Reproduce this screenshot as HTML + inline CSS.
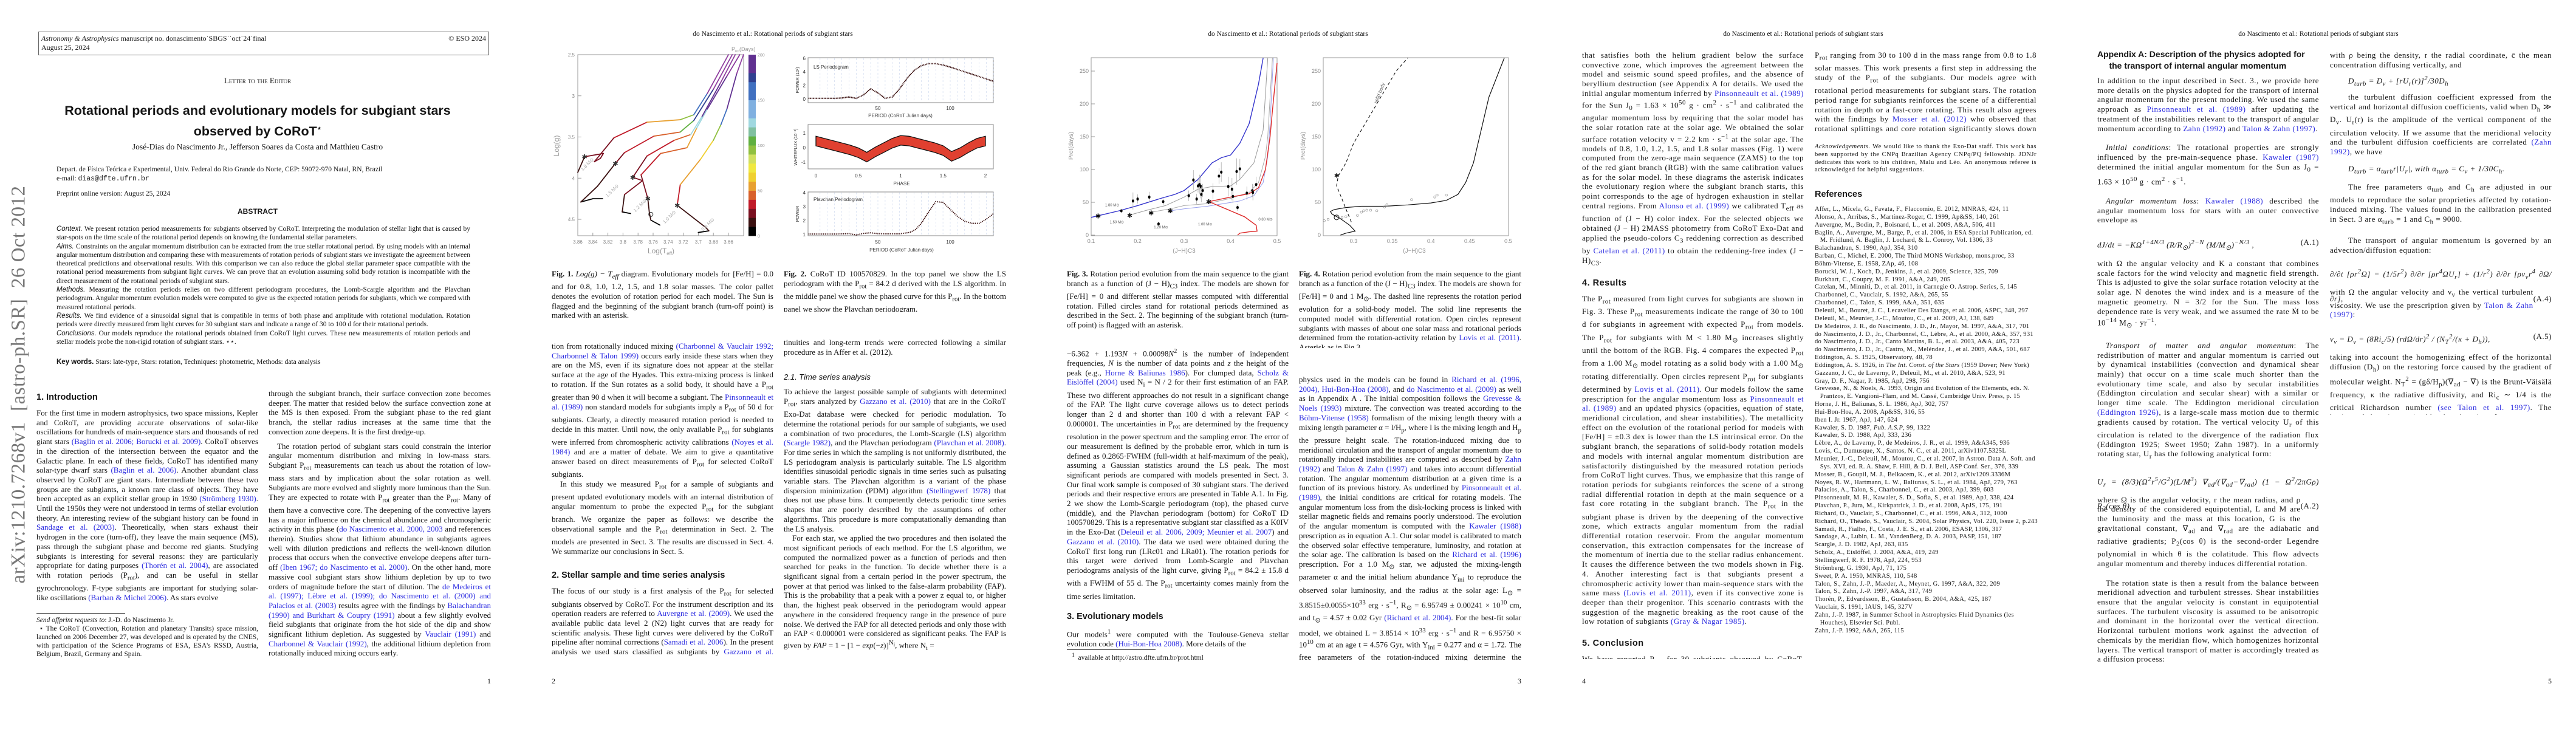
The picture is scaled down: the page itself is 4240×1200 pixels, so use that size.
<!DOCTYPE html>
<html><head><meta charset="utf-8">
<style>
*{margin:0;padding:0;box-sizing:border-box}
body{width:4240px;height:1200px;background:#fff;position:relative;overflow:hidden;font-family:"Liberation Serif",serif;color:#151515}
.pg{position:absolute;top:0;width:848px;height:1200px;background:#fff;overflow:hidden}
.col{position:absolute;font-size:13px;line-height:15.7px;text-align:justify;overflow:hidden;hyphens:auto}
.col p{text-indent:0}
.col p+p{text-indent:14px}
.h{font-family:"Liberation Sans",sans-serif;font-weight:bold;font-size:14.5px;line-height:20px;margin:6px 0 8px 0;text-align:left}
.hi{font-family:"Liberation Sans",sans-serif;font-style:italic;font-size:13px;margin:8px 0 8px 0}
a,.c{color:#2a2ae0;text-decoration:none}
.rh{position:absolute;top:50px;left:0;width:848px;text-align:center;font-size:11.5px}
.pn{position:absolute;top:1114px;font-size:12px}
.cap{position:absolute;font-size:13px;line-height:15.7px;text-align:justify;overflow:hidden}
.small{font-size:11px;line-height:12.8px}
.w{letter-spacing:0.5px}
svg text{font-family:"Liberation Sans",sans-serif}
</style></head><body>

<!-- PAGE 1 -->
<div class="pg" style="left:0">
  <div style="position:absolute;left:63px;top:52px;width:742px;height:39px;border:1px solid #666;font-size:12px;line-height:15px;padding:3px 4px">
    <i>Astronomy &amp; Astrophysics</i> manuscript no. donascimento˙SBGS˙˙oct˙24˙final<span style="float:right">© ESO 2024</span><br>August 25, 2024
  </div>
  <div style="position:absolute;top:125px;left:0;width:848px;text-align:center;font-size:13px;font-variant:small-caps">Letter to the Editor</div>
  <div style="position:absolute;top:168px;left:0;width:848px;text-align:center;font-family:'Liberation Sans',sans-serif;font-weight:bold;font-size:21.5px;line-height:29px">Rotational periods and evolutionary models for subgiant stars<br>observed by CoRoT<sup style="font-size:12px">⋆</sup></div>
  <div style="position:absolute;top:234px;left:0;width:848px;text-align:center;font-size:13.5px">José-Dias do Nascimento Jr., Jefferson Soares da Costa and Matthieu Castro</div>
  <div style="position:absolute;top:272px;left:93px;font-size:11.5px;line-height:15px">Depart. de Física Teórica e Experimental, Univ. Federal do Rio Grande do Norte, CEP: 59072-970 Natal, RN, Brazil<br>e-mail: <span style="font-family:'Liberation Mono',monospace">dias@dfte.ufrn.br</span></div>
  <div style="position:absolute;top:313px;left:93px;font-size:11.5px">Preprint online version: August 25, 2024</div>
  <div style="position:absolute;top:341px;left:0;width:848px;text-align:center;font-family:'Liberation Sans',sans-serif;font-weight:bold;font-size:12px">ABSTRACT</div>
  <div class="col" style="left:93px;top:370px;width:681px;height:218px;font-size:11.5px;line-height:14.3px">
  <i style="font-family:'Liberation Sans'">Context.</i> We present rotation period measurements for subgiants observed by CoRoT. Interpreting the modulation of stellar light that is caused by star-spots on the time scale of the rotational period depends on knowing the fundamental stellar parameters.<br>
  <i style="font-family:'Liberation Sans'">Aims.</i> Constraints on the angular momentum distribution can be extracted from the true stellar rotational period. By using models with an internal angular momentum distribution and comparing these with measurements of rotation periods of subgiant stars we investigate the agreement between theoretical predictions and observational results. With this comparison we can also reduce the global stellar parameter space compatible with the rotational period measurements from subgiant light curves. We can prove that an evolution assuming solid body rotation is incompatible with the direct measurement of the rotational periods of subgiant stars.<br>
  <i style="font-family:'Liberation Sans'">Methods.</i> Measuring the rotation periods relies on two different periodogram procedures, the Lomb-Scargle algorithm and the Plavchan periodogram. Angular momentum evolution models were computed to give us the expected rotation periods for subgiants, which we compared with measured rotational periods.<br>
  <i style="font-family:'Liberation Sans'">Results.</i> We find evidence of a sinusoidal signal that is compatible in terms of both phase and amplitude with rotational modulation. Rotation periods were directly measured from light curves for 30 subgiant stars and indicate a range of 30 to 100 d for their rotational periods.<br>
  <i style="font-family:'Liberation Sans'">Conclusions.</i> Our models reproduce the rotational periods obtained from CoRoT light curves. These new measurements of rotation periods and stellar models probe the non-rigid rotation of subgiant stars. ⋆⋆.
  </div>
  <div style="position:absolute;top:590px;left:93px;font-size:11.5px"><b style="font-family:'Liberation Sans'">Key words.</b> Stars: late-type, Stars: rotation, Techniques: photometric, Methods: data analysis</div>
  <div style="position:absolute;left:31px;top:633px;transform:translate(-50%,-50%) rotate(-90deg);white-space:nowrap;font-size:33px;color:#777;letter-spacing:0.5px">arXiv:1210.7268v1&nbsp; [astro-ph.SR]&nbsp; 26 Oct 2012</div>
  <div class="col" style="left:60px;top:638px;width:365px;height:360px">
  <div class="h">1. Introduction</div>
  <p>For the first time in modern astrophysics, two space missions, Kepler and CoRoT, are providing accurate observations of solar-like oscillations for hundreds of main-sequence stars and thousands of red giant stars <a>(Baglin et al. 2006; Borucki et al. 2009)</a>. CoRoT observes in the direction of the intersection between the equator and the Galactic plane. In each of these fields, CoRoT has identified many solar-type dwarf stars <a>(Baglin et al. 2006)</a>. Another abundant class observed by CoRoT are giant stars. Intermediate between these two groups are the subgiants, a known rare class of objects. They have been accepted as an explicit stellar group in 1930 <a>(Strömberg 1930)</a>. Until the 1950s they were not understood in terms of stellar evolution theory. An interesting review of the subgiant history can be found in <a>Sandage et al. (2003)</a>. Theoretically, when stars exhaust their hydrogen in the core (turn-off), they leave the main sequence (MS), pass through the subgiant phase and become red giants. Studying subgiants is interesting for several reasons: they are particularly appropriate for dating purposes <a>(Thorén et al. 2004)</a>, are associated with rotation periods (P<sub>rot</sub>), and can be useful in stellar gyrochronology. F-type subgiants are important for studying solar-like oscillations <a>(Barban &amp; Michel 2006)</a>. As stars evolve</p>
  </div>
  <div style="position:absolute;left:60px;top:1009px;width:146px;border-top:1px solid #333"></div>
  <div class="col small" style="left:60px;top:1014px;width:365px;height:70px;font-size:11.5px;line-height:14px"><i>Send offprint requests to</i>: J.-D. do Nascimento Jr.<br>&nbsp;⋆ The CoRoT (Convection, Rotation and planetary Transits) space mission, launched on 2006 December 27, was developed and is operated by the CNES, with participation of the Science Programs of ESA, ESA's RSSD, Austria, Belgium, Brazil, Germany and Spain.</div>
  <div class="col" style="left:442px;top:640px;width:366px;height:446px">
  <p>through the subgiant branch, their surface convection zone becomes deeper. The matter that resided below the surface convection zone at the MS is then exposed. From the subgiant phase to the red giant branch, the stellar radius increases at the same time that the convection zone deepens. It is the first dredge-up.</p>
  <p style="margin-top:8px">The rotation period of subgiant stars could constrain the interior angular momentum distribution and mixing in low-mass stars. Subgiant P<sub>rot</sub> measurements can teach us about the rotation of low-mass stars and by implication about the solar rotation as well. Subgiants are more evolved and slightly more luminous than the Sun. They are expected to rotate with P<sub>rot</sub> greater than the P<sub>rot</sub>. Many of them have a convective core. The deepening of the convective layers has a major influence on the chemical abundance and chromospheric activity in this phase (<a>do Nascimento et al. 2000, 2003</a> and references therein). Studies show that lithium abundance in subgiants agrees well with dilution predictions and reflects the well-known dilution process that occurs when the convective envelope deepens after turn-off <a>(Iben 1967; do Nascimento et al. 2000)</a>. On the other hand, more massive cool subgiant stars show lithium depletion by up to two orders of magnitude before the start of dilution. The <a>de Medeiros et al. (1997); Lèbre et al. (1999); do Nascimento et al. (2000) and Palacios et al. (2003)</a> results agree with the findings by <a>Balachandran (1990) and Burkhart &amp; Coupry (1991)</a> about a few slightly evolved field subgiants that originate from the hot side of the dip and show significant lithium depletion. As suggested by <a>Vauclair (1991)</a> and <a>Charbonnel &amp; Vauclair (1992)</a>, the additional lithium depletion from rotationally induced mixing occurs early.</p>
  </div>
  <div class="pn" style="left:802px">1</div>
</div>

<!-- PAGE 2 -->
<div class="pg" style="left:848px">
  <div class="rh">do Nascimento et al.: Rotational periods of subgiant stars</div>
  <svg id="svg2" width="848" height="430" style="position:absolute;left:0;top:0"></svg>
  <div class="cap" style="left:60px;top:443px;width:365px;height:90px"><b>Fig. 1.</b> <i>Log(g) − T<sub>eff</sub></i> diagram. Evolutionary models for [Fe/H] = 0.0 and for 0.8, 1.0, 1.2, 1.5, and 1.8 solar masses. The color pallet denotes the evolution of rotation period for each model. The Sun is flagged and the beginning of the subgiant branch (turn-off point) is marked with an asterisk.</div>
  <div class="cap" style="left:442px;top:443px;width:366px;height:70px"><b>Fig. 2.</b> CoRoT ID 100570829. In the top panel we show the LS periodogram with the P<sub>rot</sub> = 84.2 d derived with the LS algorithm. In the middle panel we show the phased curve for this P<sub>rot</sub>. In the bottom panel we show the Plavchan periodogram.</div>
  <div class="col" style="left:60px;top:562px;width:365px;height:522px">
  <p>tion from rotationally induced mixing <a>(Charbonnel &amp; Vauclair 1992; Charbonnel &amp; Talon 1999)</a> occurs early inside these stars when they are on the MS, even if its signature does not appear at the stellar surface at the age of the Hyades. This extra-mixing process is linked to rotation. If the Sun rotates as a solid body, it should have a P<sub>rot</sub> greater than 90 d when it will become a subgiant. The <a>Pinsonneault et al. (1989)</a> non standard models for subgiants imply a P<sub>rot</sub> of 50 d for subgiants. Clearly, a directly measured rotation period is needed to decide in this matter. Until now, the only available P<sub>rot</sub> for subgiants were inferred from chromospheric activity calibrations <a>(Noyes et al. 1984)</a> and are a matter of debate. We aim to give a quantitative answer based on direct measurements of P<sub>rot</sub> for selected CoRoT subgiants.</p>
  <p>In this study we measured P<sub>rot</sub> for a sample of subgiants and present updated evolutionary models with an internal distribution of angular momentum to probe the expected P<sub>rot</sub> for the subgiant branch. We organize the paper as follows: we describe the observational sample and the P<sub>rot</sub> determination in Sect. 2. The models are presented in Sect. 3. The results are discussed in Sect. 4. We summarize our conclusions in Sect. 5.</p>
  <div class="h" style="margin-top:22px">2. Stellar sample and time series analysis</div>
  <p>The focus of our study is a first analysis of the P<sub>rot</sub> for selected subgiants observed by CoRoT. For the instrument description and its operation readers are referred to <a>Auvergne et al. (2009)</a>. We used the available public data level 2 (N2) light curves that are ready for scientific analysis. These light curves were delivered by the CoRoT pipeline after nominal corrections (<a>Samadi et al. 2006</a>). In the present analysis we used stars classified as subgiants by <a>Gazzano et al. (2010)</a>. We chose only light curves with ∼ 150 d with a low contamination factor and high-quality photometry without systematic errors. Eventual discon-</p>
  </div>
  <div class="col" style="left:442px;top:556px;width:366px;height:530px">
  <p>tinuities and long-term trends were corrected following a similar procedure as in Affer et al. (2012).</p>
  <div class="hi" style="margin-top:26px">2.1. Time series analysis</div>
  <p>To achieve the largest possible sample of subgiants with determined P<sub>rot</sub>, stars analyzed by <a>Gazzano et al. (2010)</a> that are in the CoRoT Exo-Dat database were checked for periodic modulation. To determine the rotational periods for our sample of subgiants, we used a combination of two procedures, the Lomb-Scargle (LS) algorithm <a>(Scargle 1982)</a>, and the Plavchan periodogram <a>(Plavchan et al. 2008)</a>. For time series in which the sampling is not uniformly distributed, the LS periodogram analysis is particularly suitable. The LS algorithm identifies sinusoidal periodic signals in time series such as pulsating variable stars. The Plavchan algorithm is a variant of the phase dispersion minimization (PDM) algorithm <a>(Stellingwerf 1978)</a> that does not use phase bins. It competently detects periodic time series shapes that are poorly described by the assumptions of other algorithms. This procedure is more computationally demanding than the LS analysis.</p>
  <p>For each star, we applied the two procedures and then isolated the most significant periods of each method. For the LS algorithm, we computed the normalized power as a function of periods and then searched for peaks in the function. To decide whether there is a significant signal from a certain period in the power spectrum, the power at that period was linked to the false-alarm probability (FAP). This is the probability that a peak with a power z equal to, or higher than, the highest peak observed in the periodogram would appear anywhere in the considered frequency range in the presence of pure noise. We derived the FAP for all detected periods and only those with an FAP &lt; 0.000001 were considered as significant peaks. The FAP is given by <i>FAP</i> = 1 − [1 − <i>exp</i>(−<i>z</i>)]<sup>N<sub>i</sub></sup>, where N<sub>i</sub> =</p>
  </div>
  <div class="pn" style="left:60px">2</div>
</div>

<!-- PAGE 3 -->
<div class="pg" style="left:1696px">
  <div class="rh">do Nascimento et al.: Rotational periods of subgiant stars</div>
  <svg id="svg3" width="848" height="430" style="position:absolute;left:0;top:0"></svg>
  <div class="cap" style="left:60px;top:443px;width:365px;height:100px"><b>Fig. 3.</b> Rotation period evolution from the main sequence to the giant branch as a function of (J − H)<sub>C3</sub> index. The models are shown for [Fe/H] = 0 and different stellar masses computed with differential rotation. Filled circles stand for rotational periods determined as described in the Sect. 2. The beginning of the subgiant branch (turn-off point) is flagged with an asterisk.</div>
  <div class="cap" style="left:442px;top:443px;width:366px;height:130px"><b>Fig. 4.</b> Rotation period evolution from the main sequence to the giant branch as a function of the (J − H)<sub>C3</sub> index. The models are shown for [Fe/H] = 0 and 1 M<sub>⊙</sub>. The dashed line represents the rotation period evolution for a solid-body model. The solid line represents the computed model with differential rotation. Open circles represent subgiants with masses of about one solar mass and rotational periods determined from the rotation-activity relation by <a>Lovis et al. (2011)</a>. Asterisk as in Fig 3.</div>
  <div class="col" style="left:60px;top:571px;width:365px;height:496px">
  <p>−6.362 + 1.193<i>N</i> + 0.00098<i>N</i><sup>2</sup> is the number of independent frequencies, <i>N</i> is the number of data points and <i>z</i> the height of the peak (e.g., <a>Horne &amp; Baliunas 1986</a>). For clumped data, <a>Scholz &amp; Eislöffel (2004)</a> used N<sub>i</sub> = N / 2 for their first estimation of an FAP. These two different approaches do not result in a significant change of the FAP. The light curve coverage allows us to detect periods longer than 2 d and shorter than 100 d with a relevant FAP &lt; 0.000001. The uncertainties in P<sub>rot</sub> are determined by the frequency resolution in the power spectrum and the sampling error. The error of our measurement is defined by the probable error, which in turn is defined as 0.2865·FWHM (full-width at half-maximum of the peak), assuming a Gaussian statistics around the LS peak. The most significant periods are compared with models presented in Sect. 3. Our final work sample is composed of 30 subgiant stars. The derived periods and their respective errors are presented in Table A.1. In Fig. 2 we show the Lomb-Scargle periodogram (top), the phased curve (middle), and the Plavchan periodogram (bottom) for CoRoT ID 100570829. This is a representative subgiant star classified as a K0IV in the Exo-Dat (<a>Deleuil et al. 2006, 2009; Meunier et al. 2007</a>) and <a>Gazzano et al. (2010)</a>. The data we used were obtained during the CoRoT first long run (LRc01 and LRa01). The rotation periods for this target were derived from Lomb-Scargle and Plavchan periodograms analysis of the light curve, giving P<sub>rot</sub> = 84.2 ± 15.8 d with a FWHM of 55 d. The P<sub>rot</sub> uncertainty comes mainly from the time series limitation.</p>
  <div class="h" style="margin-top:16px">3. Evolutionary models</div>
  <p>Our models<sup>1</sup> were computed with the Toulouse-Geneva stellar evolution code <a>(Hui-Bon-Hoa 2008)</a>. More details of the</p>
  </div>
  <div style="position:absolute;left:60px;top:1069px;width:146px;border-top:1px solid #333"></div>
  <div style="position:absolute;left:68px;top:1073px;font-size:11.5px"><sup>1</sup>&nbsp; available at http://astro.dfte.ufrn.br/prot.html</div>
  <div class="col" style="left:442px;top:617px;width:366px;height:470px">
  <p>physics used in the models can be found in <a>Richard et al. (1996, 2004), Hui-Bon-Hoa (2008)</a>, and <a>do Nascimento et al. (2009)</a> as well as in Appendix A . The initial composition follows the <a>Grevesse &amp; Noels (1993)</a> mixture. The convection was treated according to the <a>Böhm-Vitense (1958)</a> formalism of the mixing length theory with a mixing length parameter α = l/H<sub>p</sub>, where l is the mixing length and H<sub>p</sub> the pressure height scale. The rotation-induced mixing due to meridional circulation and the transport of angular momentum due to rotationally induced instabilities are computed as described by <a>Zahn (1992)</a> and <a>Talon &amp; Zahn (1997)</a> and takes into account differential rotation. The angular momentum distribution at a given time is a function of its previous history. As underlined by <a>Pinsonneault et al. (1989)</a>, the initial conditions are critical for rotating models. The angular momentum loss from the disk-locking process is linked with stellar magnetic fields and remains poorly understood. The evolution of the angular momentum is computed with the <a>Kawaler (1988)</a> prescription as in equation A.1. Our solar model is calibrated to match the observed solar effective temperature, luminosity, and rotation at the solar age. The calibration is based on the <a>Richard et al. (1996)</a> prescription. For a 1.0 M<sub>⊙</sub> star, we adjusted the mixing-length parameter α and the initial helium abundance Y<sub>ini</sub> to reproduce the observed solar luminosity, and the radius at the solar age: L<sub>⊙</sub> = 3.8515±0.0055×10<sup>33</sup> erg · s<sup>−1</sup>, R<sub>⊙</sub> = 6.95749 ± 0.00241 × 10<sup>10</sup> cm, and t<sub>⊙</sub> = 4.57 ± 0.02 Gyr <a>(Richard et al. 2004)</a>. For the best-fit solar model, we obtained L = 3.8514 × 10<sup>33</sup> erg · s<sup>−1</sup> and R = 6.95750 × 10<sup>10</sup> cm at an age t = 4.576 Gyr, with Y<sub>ini</sub> = 0.277 and α = 1.72. The free parameters of the rotation-induced mixing determine the efficiency of the turbulent motions and are adjusted to produce a mixing</p>
  </div>
  <div class="pn" style="left:802px">3</div>
</div>

<!-- PAGE 4 -->
<div class="pg" style="left:2544px">
  <div class="rh">do Nascimento et al.: Rotational periods of subgiant stars</div>
  <div class="col w" style="left:60px;top:83px;width:365px;height:1002px">
  <p>that satisfies both the helium gradient below the surface convective zone, which improves the agreement between the model and seismic sound speed profiles, and the absence of beryllium destruction (see Appendix A for details. We used the initial angular momentum inferred by <a>Pinsonneault et al. (1989)</a> for the Sun J<sub>0</sub> = 1.63 × 10<sup>50</sup> g · cm<sup>2</sup> · s<sup>−1</sup> and calibrated the angular momentum loss by requiring that the solar model has the solar rotation rate at the solar age. We obtained the solar surface rotation velocity v = 2.2 km · s<sup>−1</sup> at the solar age. The models of 0.8, 1.0, 1.2, 1.5, and 1.8 solar masses (Fig. 1) were computed from the zero-age main sequence (ZAMS) to the top of the red giant branch (RGB) with the same calibration values as for the solar model. In these diagrams the asterisk indicates the evolutionary region where the subgiant branch starts, this point corresponds to the age of hydrogen exhaustion in stellar central regions. From <a>Alonso et al. (1999)</a> we calibrated T<sub>eff</sub> as function of (J − H) color index. For the selected objects we obtained (J − H) 2MASS photometry from CoRoT Exo-Dat and applied the pseudo-colors C<sub>3</sub> reddening correction as described by <a>Catelan et al. (2011)</a> to obtain the reddening-free index (J − H)<sub>C3</sub>.</p>
  <div class="h" style="margin-top:14px">4. Results</div>
  <p>The P<sub>rot</sub> measured from light curves for subgiants are shown in Fig. 3. These P<sub>rot</sub> measurements indicate the range of 30 to 100 d for subgiants in agreement with expected P<sub>rot</sub> from models. The P<sub>rot</sub> for subgiants with M &lt; 1.80 M<sub>⊙</sub> increases slightly until the bottom of the RGB. Fig. 4 compares the expected P<sub>rot</sub> from a 1.00 M<sub>⊙</sub> model rotating as a solid body with a 1.00 M<sub>⊙</sub> rotating differentially. Open circles represent P<sub>rot</sub> for subgiants determined by <a>Lovis et al. (2011)</a>. Our models follow the same prescription for the angular momentum loss as <a>Pinsonneault et al. (1989)</a> and an updated physics (opacities, equation of state, meridional circulation, and shear instabilities). The metallicity effect on the evolution of the rotational period for models with [Fe/H] = ±0.3 dex is lower than the LS intrinsical error. On the subgiant branch, the separations of solid-body rotation models and models with internal angular momentum distribution are satisfactorily distinguished by the measured rotation periods from CoRoT light curves. Thus, we emphasize that this range of rotation periods for subgiants reinforces the scene of a strong radial differential rotation in depth at the main sequence or a fast core rotating in the subgiant branch. The P<sub>rot</sub> in the subgiant phase is driven by the deepening of the convective zone, which extracts angular momentum from the radial differential rotation reservoir. From the angular momentum conservation, this extraction compensates for the increase of the momentum of inertia due to the stellar radius enhancement. It causes the difference between the two models shown in Fig. 4. Another interesting fact is that subgiants present a chromospheric activity lower than main-sequence stars with the same mass <a>(Lovis et al. 2011)</a>, even if its convective zone is deeper than their progenitor. This scenario contrasts with the suggestion of the magnetic breaking as the root cause of the low rotation of subgiants <a>(Gray &amp; Nagar 1985)</a>.</p>
  <div class="h" style="margin-top:18px">5. Conclusion</div>
  <p>We have reported P<sub>rot</sub> for 30 subgiants observed by CoRoT. These P<sub>rot</sub> combined with evolutionary models helped us to more tightly constrain the angular momentum evolution for evolved stars, which is inaccessible to direct observations. Our P<sub>rot</sub> agree well with the range of periods determined from the activity modulation studies of subgiants. We showed that subgiants present</p>
  </div>
  <div class="col w" style="left:443px;top:83px;width:365px;height:140px">
  <p>P<sub>rot</sub> ranging from 30 to 100 d in the mass range from 0.8 to 1.8 solar masses. This work presents a first step in addressing the study of the P<sub>rot</sub> of the subgiants. Our models agree with rotational period measurements for subgiant stars. The rotation period range for subgiants reinforces the scene of a differential rotation in depth or a fast-core rotating. This result also agrees with the findings by <a>Mosser et al. (2012)</a> who observed that rotational splittings and core rotation significantly slows down during the RGB.</p>
  </div>
  <div class="col small w" style="left:443px;top:236px;width:365px;height:52px;font-size:10.5px;line-height:12.8px"><i>Acknowledgements.</i> We would like to thank the Exo-Dat staff. This work has been supported by the CNPq Brazilian Agency CNPq/PQ fellowship. JDNJr dedicates this work to his children, Malu and Léo. An anonymous referee is acknowledged for helpful suggestions.</div>
  <div class="h" style="position:absolute;left:443px;top:310px;margin:0">References</div>
  <div class="col small" style="left:443px;top:339px;width:368px;height:704px;font-size:10.5px;line-height:12.85px;text-align:left;letter-spacing:0.3px">
  Affer, L., Micela, G., Favata, F., Flaccomio, E. 2012, MNRAS, 424, 11<br>Alonso, A., Arribas, S., Martínez-Roger, C. 1999, Ap&amp;SS, 140, 261<br>Auvergne, M., Bodin, P., Boisnard, L., et al. 2009, A&amp;A, 506, 411<br>Baglin, A., Auvergne, M., Barge, P., et al. 2006, in ESA Special Publication, ed.<br>&nbsp;&nbsp;&nbsp;M. Fridlund, A. Baglin, J. Lochard, &amp; L. Conroy, Vol. 1306, 33<br>Balachandran, S. 1990, ApJ, 354, 310<br>Barban, C., Michel, E. 2000, The Third MONS Workshop, mons.proc, 33<br>Böhm-Vitense, E. 1958, ZAp, 46, 108<br>Borucki, W. J., Koch, D., Jenkins, J., et al. 2009, Science, 325, 709<br>Burkhart, C., Coupry, M. F. 1991, A&amp;A, 249, 205<br>Catelan, M., Minniti, D., et al. 2011, in Carnegie O. Astrop. Series, 5, 145<br>Charbonnel, C., Vauclair, S. 1992, A&amp;A, 265, 55<br>Charbonnel, C., Talon, S. 1999, A&amp;A, 351, 635<br>Deleuil, M., Bouret, J. C., Lecavelier Des Etangs, et al. 2006, ASPC, 348, 297<br>Deleuil, M., Meunier, J.-C., Moutou, C., et al. 2009, AJ, 138, 649<br>De Medeiros, J. R., do Nascimento, J. D., Jr., Mayor, M. 1997, A&amp;A, 317, 701<br>do Nascimento, J. D., Jr., Charbonnel, C., Lèbre, A., et al. 2000, A&amp;A, 357, 931<br>do Nascimento, J. D., Jr., Canto Martins, B. L., et al. 2003, A&amp;A, 405, 723<br>do Nascimento, J. D., Jr., Castro, M., Meléndez, J., et al. 2009, A&amp;A, 501, 687<br>Eddington, A. S. 1925, Observatory, 48, 78<br>Eddington, A. S. 1926, in <i>The Int. Const. of the Stars</i> (1959 Dover; New York)<br>Gazzano, J. C., de Laverny, P., Deleuil, M., et al. 2010, A&amp;A, 523, 91<br>Gray, D. F., Nagar, P. 1985, ApJ, 298, 756<br>Grevesse, N., &amp; Noels, A. 1993, Origin and Evolution of the Elements, eds. N.<br>&nbsp;&nbsp;&nbsp;Prantzos, E. Vangioni–Flam, and M. Cassé, Cambridge Univ. Press, p. 15<br>Horne, J. H., Baliunas, S. L. 1986, ApJ, 302, 757<br>Hui-Bon-Hoa, A. 2008, Ap&amp;SS, 316, 55<br>Iben I. Jr. 1967, ApJ, 147, 624<br>Kawaler, S. D. 1987, <i>Pub. A.S.P</i>, 99, 1322<br>Kawaler, S. D. 1988, ApJ, 333, 236<br>Lèbre, A., de Laverny, P., de Medeiros, J. R., et al. 1999, A&amp;A345, 936<br>Lovis, C., Dumusque, X., Santos, N. C., et al. 2011, arXiv1107.5325L<br>Meunier, J.-C., Deleuil, M., Moutou, C., et al. 2007, in Astron. Data A. Soft. and<br>&nbsp;&nbsp;&nbsp;Sys. XVI, ed. R. A. Shaw, F. Hill, &amp; D. J. Bell, ASP Conf. Ser., 376, 339<br>Mosser, B., Goupil, M. J., Belkacem, K., et al. 2012, arXiv1209.3336M<br>Noyes, R. W., Hartmann, L. W., Baliunas, S. L., et al. 1984, ApJ, 279, 763<br>Palacios, A., Talon, S., Charbonnel, C., et al. 2003, ApJ, 399, 603<br>Pinsonneault, M. H., Kawaler, S. D., Sofia, S., et al. 1989, ApJ, 338, 424<br>Plavchan, P., Jura, M., Kirkpatrick, J. D., et al. 2008, ApJS, 175, 191<br>Richard, O., Vauclair, S., Charbonnel, C., et al. 1996, A&amp;A, 312, 1000<br>Richard, O., Théado, S., Vauclair, S. 2004, Solar Physics, Vol. 220, Issue 2, p.243<br>Samadi, R., Fialho, F., Costa, J. E. S., et al. 2006, ESASP, 1306, 317<br>Sandage, A., Lubin, L. M., VandenBerg, D. A. 2003, PASP, 151, 187<br>Scargle, J. D. 1982, ApJ, 263, 835<br>Scholz, A., Eislöffel, J. 2004, A&amp;A, 419, 249<br>Stellingwerf, R. F. 1978, ApJ, 224, 953<br>Strömberg, G. 1930, ApJ, 71, 175<br>Sweet, P. A. 1950, MNRAS, 110, 548<br>Talon, S., Zahn, J.-P., Maeder, A., Meynet, G. 1997, A&amp;A, 322, 209<br>Talon, S., Zahn, J.-P. 1997, A&amp;A, 317, 749<br>Thorén, P., Edvardsson, B., Gustafsson, B. 2004, A&amp;A, 425, 187<br>Vauclair, S. 1991, IAUS, 145, 327V<br>Zahn, J.-P. 1987, in Summer School in Astrophysics Fluid Dynamics (les<br>&nbsp;&nbsp;&nbsp;Houches), Elsevier Sci. Publ.<br>Zahn, J.-P. 1992, A&amp;A, 265, 115
  </div>
  <div class="pn" style="left:60px">4</div>
</div>

<!-- PAGE 5 -->
<div class="pg" style="left:3392px">
  <div class="rh">do Nascimento et al.: Rotational periods of subgiant stars</div>
  <div style="position:absolute;left:60px;top:80px;width:370px;font-family:'Liberation Sans',sans-serif;font-weight:bold;font-size:14px;line-height:19px">Appendix A: Description of the physics adopted for<br>&nbsp;&nbsp;&nbsp;&nbsp;&nbsp;the transport of internal angular momentum</div>
  <div class="col w" style="left:60px;top:125px;width:365px;height:970px">
  <p>In addition to the input described in Sect. 3., we provide here more details on the physics adopted for the transport of internal angular momentum for the present modeling. We used the same approach as <a>Pinsonneault et al. (1989)</a> after updating the treatment of the instabilities relevant to the transport of angular momentum according to <a>Zahn (1992)</a> and <a>Talon &amp; Zahn (1997)</a>.</p>
  <p style="margin-top:16px"><i>Initial conditions</i>: The rotational properties are strongly influenced by the pre-main-sequence phase. <a>Kawaler (1987)</a> determined the initial angular momentum for the Sun as J<sub>0</sub> = 1.63 × 10<sup>50</sup> g · cm<sup>2</sup> · s<sup>−1</sup>.</p>
  <p style="margin-top:16px"><i>Angular momentum loss</i>: <a>Kawaler (1988)</a> described the angular momentum loss for stars with an outer convective envelope as</p>
  <div style="margin:12px 0 10px 0;font-style:italic;height:34px;line-height:34px">dJ/dt = −KΩ<sup>1+4N/3</sup> (R/R<sub>⊙</sub>)<sup>2−N</sup> (M/M<sub>⊙</sub>)<sup>−N/3</sup> ,<span style="float:right;font-style:normal">(A.1)</span></div>
  <p>with Ω the angular velocity and K a constant that combines scale factors for the wind velocity and magnetic field strength. This is adjusted to give the solar surface rotation velocity at the solar age. N denotes the wind index and is a measure of the magnetic geometry. N = 3/2 for the Sun. The mass loss dependence rate is very weak, and we assumed the rate Ṁ to be 10<sup>−14</sup> M<sub>⊙</sub> · yr<sup>−1</sup>.</p>
  <p style="margin-top:16px"><i>Transport of matter and angular momentum</i>: The redistribution of matter and angular momentum is carried out by dynamical instabilities (convection and dynamical shear mainly) that occur on a time scale much shorter than the evolutionary time scale, and also by secular instabilities (Eddington circulation and secular shear) with a similar or longer time scale. The Eddington meridional circulation <a>(Eddington 1926)</a>, is a large-scale mass motion due to thermic gradients caused by rotation. The vertical velocity U<sub>r</sub> of this circulation is related to the divergence of the radiation flux (Eddington 1925; Sweet 1950; Zahn 1987). In a uniformly rotating star, U<sub>r</sub> has the following analytical form:</p>
  <div style="margin:10px 0 8px 0;font-style:italic;height:36px;line-height:36px">U<sub>r</sub> = (8/3)(Ω<sup>2</sup>r<sup>5</sup>/G<sup>2</sup>)(L/M<sup>3</sup>) ∇<sub>ad</sub>/(∇<sub>ad</sub>−∇<sub>rad</sub>) (1 − Ω<sup>2</sup>/2πGρ) P<sub>2</sub>(cos θ),<span style="float:right;font-style:normal">(A.2)</span></div>
  <p>where Ω is the angular velocity, r the mean radius, and ρ the density of the considered equipotential, L and M are the luminosity and the mass at this location, G is the gravitational constant, ∇<sub>ad</sub> and ∇<sub>rad</sub> are the adiabatic and radiative gradients; P<sub>2</sub>(cos θ) is the second-order Legendre polynomial in which θ is the colatitude. This flow advects angular momentum and thereby induces differential rotation.</p>
  <p style="margin-top:16px">The rotation state is then a result from the balance between meridional advection and turbulent stresses. Shear instabilities ensure that the angular velocity is constant in equipotential surfaces. The turbulent viscosity is assumed to be anisotropic and dominant in the horizontal over the vertical direction. Horizontal turbulent motions work against the advection of chemicals by the meridian flow, which homogenizes horizontal layers. The vertical transport of matter is accordingly treated as a diffusion process:</p>
  <div style="margin:10px 0 0 0;font-style:italic;height:34px;line-height:34px">ρ ∂c̄/∂t = (1/r<sup>2</sup>) ∂/∂r (r<sup>2</sup>ρD<sub>turb</sub> ∂c̄/∂r),<span style="float:right;font-style:normal">(A.3)</span></div>
  </div>
  <div class="col w" style="left:443px;top:83px;width:365px;height:600px">
  <p>with ρ being the density, r the radial coordinate, c̄ the mean concentration diffusing vertically, and</p>
  <div style="margin:8px 0 6px 30px;font-style:italic;height:24px">D<sub>turb</sub> = D<sub>v</sub> + [rU<sub>r</sub>(r)]<sup>2</sup>/30D<sub>h</sub></div>
  <p style="text-indent:30px">the turbulent diffusion coefficient expressed from the vertical and horizontal diffusion coefficients, valid when D<sub>h</sub> ≫ D<sub>v</sub>. U<sub>r</sub>(r) is the amplitude of the vertical component of the circulation velocity. If we assume that the meridional velocity and the turbulent diffusion coefficients are correlated <a>(Zahn 1992)</a>, we have</p>
  <div style="margin:12px 0 8px 30px;font-style:italic;height:22px">D<sub>turb</sub> = α<sub>turb</sub>r|U<sub>r</sub>|, with α<sub>turb</sub> = C<sub>v</sub> + 1/30C<sub>h</sub>.</div>
  <p style="text-indent:30px">The free parameters α<sub>turb</sub> and C<sub>h</sub> are adjusted in our models to reproduce the solar proprieties affected by rotation-induced mixing. The values found in the calibration presented in Sect. 3 are α<sub>turb</sub> = 1 and C<sub>h</sub> = 9000.</p>
  <p style="text-indent:30px;margin-top:14px">The transport of angular momentum is governed by an advection/diffusion equation:</p>
  <div style="margin:10px 0 8px 0;font-style:italic;height:36px;line-height:36px">∂/∂t [ρr<sup>2</sup>Ω] = (1/5r<sup>2</sup>) ∂/∂r [ρr<sup>4</sup>ΩU<sub>r</sub>] + (1/r<sup>2</sup>) ∂/∂r [ρν<sub>v</sub>r<sup>4</sup> ∂Ω/∂r],<span style="float:right;font-style:normal">(A.4)</span></div>
  <p>with Ω the angular velocity and ν<sub>v</sub> the vertical turbulent viscosity. We use the prescription given by <a>Talon &amp; Zahn (1997)</a>:</p>
  <div style="margin:10px 0 8px 0;font-style:italic;height:36px;line-height:36px">ν<sub>v</sub> = D<sub>v</sub> = (8Ri<sub>c</sub>/5) (rdΩ/dr)<sup>2</sup> / (N<sub>T</sub><sup>2</sup>/(κ + D<sub>h</sub>)),<span style="float:right;font-style:normal">(A.5)</span></div>
  <p>taking into account the homogenizing effect of the horizontal diffusion (D<sub>h</sub>) on the restoring force caused by the gradient of molecular weight. N<sub>T</sub><sup>2</sup> = (gδ/H<sub>p</sub>)(∇<sub>ad</sub> − ∇) is the Brunt-Väisälä frequency, κ the radiative diffusivity, and Ri<sub>c</sub> ∼ 1/4 is the critical Richardson number <a>(see Talon et al. 1997)</a>. The horizontal shear is sustained by the advection of momentum:</p>
  <div style="margin:10px 0 0 0;font-style:italic;height:36px;line-height:36px">D<sub>h</sub> = (rU<sub>r</sub>/C<sub>h</sub>) [ (1/3) d lnρr<sup>2</sup>U<sub>r</sub>/d ln r − (1/2) d lnρr<sup>2</sup>Ω/d ln r ].<span style="float:right;font-style:normal">(A.6)</span></div>
  </div>
  <div class="pn" style="left:802px">5</div>
</div>

<script>
// ===== Figure 1 data (log g - Teff tracks) =====
const trackMasses = ["0.8","1.0","1.2","1.5","1.8"];
const teff08 = [3.700,3.686,3.690,3.728,3.724,3.697,3.680,3.670,3.662,3.649,3.640];
const logg08 = [4.66,4.64,4.60,4.33,4.08,3.77,3.54,3.35,3.16,2.73,2.50];
const prot08 = [5,8,12,25,50,60,70,120,190,200,200];
const teff10 = [3.751,3.763,3.765,3.767,3.776,3.750,3.715,3.702,3.688,3.662,3.645];
const logg10 = [4.57,4.51,4.42,4.25,3.96,3.70,3.63,3.39,3.16,2.76,2.50];
const prot10 = [3,6,15,20,30,40,45,70,190,200,200];
const teff12 = [3.790,3.801,3.798,3.774,3.787,3.768,3.732,3.710,3.695,3.671,3.651];
const logg12 = [4.43,4.41,4.20,4.03,3.99,3.73,3.54,3.47,3.25,2.85,2.50];
const prot12 = [2,10,18,22,22,30,40,50,190,200,200];
const teff15 = [3.827,3.840,3.856,3.834,3.810,3.798,3.759,3.724,3.706,3.680,3.655];
const logg15 = [4.25,4.25,4.29,4.10,3.82,3.69,3.49,3.44,3.30,2.92,2.50];
const prot15 = [2,3,5,15,18,25,35,60,150,200,200];
const teff18 = [3.860,3.851,3.826,3.830,3.838,3.812,3.768,3.724,3.706,3.688,3.660];
const logg18 = [3.93,3.74,3.70,3.76,3.80,3.51,3.32,3.29,3.23,2.97,2.50];
const prot18 = [15,20,20,20,20,25,45,65,120,200,200];
const turnoffTeff = [3.728,3.767,3.787,3.810,3.851];
const turnoffLogg = [4.33,4.25,3.99,3.82,3.74];
const fig1XTicks = [3.86,3.84,3.82,3.80,3.78,3.76,3.74,3.72,3.70,3.68,3.66];
const fig1YTicks = [2.5,3,3.5,4,4.5];
const cbarTicks = [0,50,100,150,200];

// ===== Figure 2 data =====
const lsPeriod = [2,10,20,25,30,35,40,45,50,55,60,65,70,75,80,85,90,95,100,110,120,130];
const lsPower  = [0.1,0.1,0.1,0.15,0.3,0.1,0.6,1.5,0.9,0.1,0.3,1.5,3.0,4.2,4.9,5.2,5.2,5.0,4.7,4.0,3.3,2.6];
const phase = [0,0.1,0.2,0.3,0.4,0.5,0.6,0.7,0.8,0.9,1.0,1.1,1.2,1.3,1.4,1.5,1.6,1.7,1.8,1.9,2.0];
const fluxMid = [0.45,0.3,0.15,0.0,-0.15,-0.35,-0.65,-0.3,0.0,0.3,0.5,0.45,0.3,0.15,0.0,-0.2,-0.6,-0.35,0.0,0.3,0.45];
const plPeriod = [2,20,30,35,40,45,50,55,65,72,76,80,85,90,95,100,105,110,115,120,125,130];
const plPower  = [1.03,1.03,1.06,0.97,1.08,1.12,1.06,1.05,1.05,1.15,1.35,1.8,2.6,3.35,3.3,2.8,2.3,1.95,1.8,1.8,2.1,2.5];

// ===== Figure 3 data =====
const obsJH  = [0.165,0.19,0.20,0.225,0.255,0.245,0.31,0.32,0.327,0.33,0.333,0.336,0.337,0.34,0.362,0.375,0.38,0.395,0.403,0.405,0.413,0.42,0.415,0.435,0.447,0.448,0.455];
const obsProt= [37,52,55,58,51,17,60,84,55,75,77,74,62,68,67,90,96,74,70,59,97,101,42,64,68,65,77];
const obsErr = [0,13,7,8,5,0,8,15,8,10,15,18,12,10,12,12,15,15,17,10,20,15,5,10,10,12,12];
const m18JH = [0.1,0.13,0.16,0.2,0.25,0.28,0.3,0.33,0.36,0.38,0.4,0.42,0.44,0.46,0.47];
const m18P  = [27,32,37,45,56,62,68,85,110,118,122,140,170,230,270];
const m15JH = [0.18,0.22,0.26,0.3,0.33,0.36,0.4,0.42,0.45,0.47,0.48];
const m15P  = [30,38,45,58,70,74,75,85,110,160,270];
const m12JH = [0.23,0.27,0.3,0.35,0.4,0.44,0.46,0.475,0.48,0.49];
const m12P  = [35,40,45,48,56,65,80,120,150,270];
const m10JH = [0.27,0.3,0.35,0.42,0.45,0.47,0.48,0.485,0.492];
const m10P  = [37,40,44,52,60,80,120,170,270];
const m08JH = [0.353,0.4,0.44,0.46,0.475,0.485,0.49,0.5];
const m08P  = [51,58,63,72,100,150,190,262];
const m08preJH = [0.353,0.39,0.43,0.455,0.457,0.44,0.42,0.415];
const m08preP  = [51,40,28,15,6,5,3,0];
const fig3XTicks = [0.1,0.2,0.3,0.4,0.5];
const fig3YTicks = [0,50,100,150,200,250];

// ===== Figure 4 data =====
const diffJH = [0.283,0.29,0.302,0.295,0.283,0.272,0.27,0.275,0.29,0.31,0.34,0.37,0.4,0.42,0.435,0.445,0.455,0.465,0.475,0.495];
const diffP  = [0,3,6,15,25,32,36,39,42,44,44,46,49,53,62,80,110,160,210,270];
const solidJH = [0.297,0.29,0.285,0.278,0.28,0.29,0.3,0.32,0.34,0.355,0.37];
const solidP  = [20,40,55,75,90,110,140,180,220,250,270];
const lovisJH = [0.262,0.267,0.285,0.29,0.305,0.31,0.313,0.317,0.322,0.33,0.34,0.343,0.375,0.405,0.408,0.42];
const lovisP  = [22,24,27,28,30,35,37,38,38,37,43,46,54,58,61,61];
const fig4XTicks = [0.3,0.35,0.4,0.45,0.5];

const NS = "http://www.w3.org/2000/svg";
function mk(parent, tag, attrs, txt){
  const e = document.createElementNS(NS, tag);
  for (const k in attrs) e.setAttribute(k, attrs[k]);
  if (txt !== undefined) e.textContent = txt;
  parent.appendChild(e);
  return e;
}
function ptsStr(xs, ys, fx, fy){ return xs.map((v,i)=>fx(v).toFixed(1)+","+fy(ys[i]).toFixed(1)).join(" "); }

// colormap for Prot
const cmapStops = [[0,"#000000"],[10,"#3a1010"],[20,"#7a1020"],[30,"#c01a28"],[40,"#d8602a"],[50,"#e8a030"],[60,"#f0d030"],[70,"#f0e840"],[80,"#d0e060"],[90,"#90c040"],[100,"#60b040"],[110,"#80c0a0"],[120,"#a0d8e0"],[135,"#80b0e0"],[150,"#4070c0"],[170,"#304090"],[185,"#603090"],[200,"#9040a0"]];
function cmap(p){
  for (let i=cmapStops.length-1;i>=0;i--) if (p>=cmapStops[i][0]) return cmapStops[i][1];
  return "#000";
}

// ===== Draw Figure 1 =====
const s2 = document.getElementById("svg2");
const f1L=103,f1R=376,f1T=90,f1B=388;
const x1 = t => f1L + (3.86 - t)*1240;
const y1 = g => f1T + (g-2.5)*135.5;
const f1frame = mk(s2,"rect",{x:f1L,y:f1T,width:f1R-f1L,height:f1B-f1T,fill:"none",stroke:"#999","stroke-width":1});


fig1XTicks.forEach(t=>{
  const tk = mk(s2,"line",{x1:x1(t),x2:x1(t),y1:f1B,y2:f1B-5,stroke:"#999"});
  
  
  const lb = mk(s2,"text",{x:x1(t),y:f1B+13,"font-size":8,fill:"#888","text-anchor":"middle"},String(t));
  
  
});
fig1YTicks.forEach(t=>{
  const tk = mk(s2,"line",{x1:f1L,x2:f1L+6,y1:y1(t),y2:y1(t),stroke:"#999"});
  
  
  const lb = mk(s2,"text",{x:f1L-5,y:y1(t)+3,"font-size":8,fill:"#888","text-anchor":"end"},String(t));
  
  
});
const f1xt = mk(s2,"text",{x:240,y:f1B+29,"font-size":12,fill:"#999","text-anchor":"middle","font-family":"Liberation Serif"},"Log(T");


mk(f1xt,"tspan",{"font-size":8,dy:3},"eff");
mk(f1xt,"tspan",{dy:-3},")");
const f1yt = mk(s2,"text",{x:72,y:240,"font-size":12,fill:"#999","text-anchor":"middle","font-family":"Liberation Serif",transform:"rotate(-90 72 240)"},"Log(g)");


const tracks = [[teff08,logg08,prot08],[teff10,logg10,prot10],[teff12,logg12,prot12],[teff15,logg15,prot15],[teff18,logg18,prot18]];
tracks.forEach((tr,ti)=>{
  const g = mk(s2,"g",{});
  
  
  for (let i=0;i<tr[0].length-1;i++){
    const c = cmap((tr[2][i]+tr[2][i+1])/2);
    mk(g,"line",{x1:x1(tr[0][i]),y1:y1(tr[1][i]),x2:x1(tr[0][i+1]),y2:y1(tr[1][i+1]),stroke:c,"stroke-width":1.8,"stroke-linecap":"round"});
  }
  const lab = mk(s2,"text",{x:x1(tr[0][0])+8,y:y1(tr[1][0])-2,"font-size":8,fill:"#aaa",transform:"rotate(-45 "+(x1(tr[0][0])+8)+" "+(y1(tr[1][0])-2)+")"},trackMasses[ti]+" M⊙");
  
  
});
turnoffTeff.forEach((t,i)=>{
  const a = mk(s2,"text",{x:x1(t),y:y1(turnoffLogg[i])+4,"font-size":11,fill:"#333","text-anchor":"middle"},"✱");
  
  
});
const sun = mk(s2,"circle",{cx:x1(3.763),cy:y1(4.44),r:3.5,fill:"none",stroke:"#333"});


// colorbar
const cbX=384,cbW=12;
const cy = p => f1B - p*(f1B-f1T)/200;
for (let p=0;p<200;p+=10){
  const r = mk(s2,"rect",{x:cbX,y:cy(p+10),width:cbW,height:cy(p)-cy(p+10)+0.5,fill:cmap(p+5)});
  
  
}
cbarTicks.forEach(t=>{
  const lb = mk(s2,"text",{x:cbX+cbW+3,y:cy(t)+3,"font-size":7,fill:"#999"},String(t));
  
  
});
const cbt = mk(s2,"text",{x:356,y:84,"font-size":9,fill:"#999","font-family":"Liberation Serif"},"P");


mk(cbt,"tspan",{"font-size":6,dy:2},"rot");
mk(cbt,"tspan",{dy:-2},"(Days)");

// ===== Figure 2 panels =====
const f2L=482,f2R=787;
const xp = p => 597 + (p-50)*2.38;
function panel(top,bot,name){
  const r = mk(s2,"rect",{x:f2L,y:top,width:f2R-f2L,height:bot-top,fill:"none",stroke:"#888"});
  
  
}
// panel 1: LS
const yls = v => 163 - v*11.2;
panel(95,169,'fig2-ls-panel-frame');
for (let p=10;p<=130;p+=5){ mk(s2,"line",{x1:xp(p),x2:xp(p),y1:96,y2:168,stroke:"#c8d4ec","stroke-width":0.6,"stroke-dasharray":"3,3"}); }
const lsLine = mk(s2,"polyline",{points:ptsStr(lsPeriod,lsPower,xp,yls),fill:"none",stroke:"#3a1010","stroke-width":2.2,"stroke-dasharray":"1.5,1"});


const lsT = mk(s2,"text",{x:492,y:191-0,"font-size":1},"");
[0,2,4,6].forEach(v=>{ const t=mk(s2,"text",{x:478,y:yls(v)+3,"font-size":8,"text-anchor":"end",fill:"#333"},String(v));   });
[50,100].forEach(v=>{ const t=mk(s2,"text",{x:xp(v),y:181,"font-size":8,"text-anchor":"middle",fill:"#333"},String(v));   });
const l1 = mk(s2,"text",{x:491,y:113,"font-size":8,fill:"#333","font-family":"Liberation Mono"},"LS Periodogram");


const xt1 = mk(s2,"text",{x:634,y:193,"font-size":8,"text-anchor":"middle",fill:"#333"},"PERIOD (CoRoT Julian days)");


const yt1 = mk(s2,"text",{x:467,y:132,"font-size":7,"text-anchor":"middle",fill:"#333",transform:"rotate(-90 467 132)","font-family":"Liberation Mono"},"POWER (10²)");


// panel 2: phased
const xph = v => 495 + v*139.5;
const yph = v => 243 - v*24;
panel(205,278,'fig2-phase-panel-frame');
const upper = phase.map((p,i)=>xph(p).toFixed(1)+","+yph(fluxMid[i]+0.33).toFixed(1));
const lower = phase.map((p,i)=>xph(p).toFixed(1)+","+yph(fluxMid[i]-0.33).toFixed(1)).reverse();
const band = mk(s2,"polygon",{points:upper.concat(lower).join(" "),fill:"#e04030",stroke:"#111","stroke-width":1.3});


[0,0.5,1,1.5,2].forEach(v=>{ const t=mk(s2,"text",{x:xph(v),y:292,"font-size":8,"text-anchor":"middle",fill:"#333"},String(v));   });
[-1,0,1].forEach(v=>{ const t=mk(s2,"text",{x:478,y:yph(v)+3,"font-size":8,"text-anchor":"end",fill:"#333"},String(v));   });
const xt2 = mk(s2,"text",{x:636,y:305,"font-size":8,"text-anchor":"middle",fill:"#333"},"PHASE");


const yt2 = mk(s2,"text",{x:464,y:242,"font-size":7,"text-anchor":"middle",fill:"#333",transform:"rotate(-90 464 242)","font-family":"Liberation Mono"},"WHITEFLUX (10⁻²)");


// panel 3: Plavchan
const ypl = v => 386 - (v-1)*23;
panel(316,388,'fig2-plavchan-panel-frame');
for (let p=10;p<=130;p+=5){ mk(s2,"line",{x1:xp(p),x2:xp(p),y1:317,y2:387,stroke:"#c8d4ec","stroke-width":0.6,"stroke-dasharray":"3,3"}); }
const plLine = mk(s2,"polyline",{points:ptsStr(plPeriod,plPower,xp,ypl),fill:"none",stroke:"#3a1010","stroke-width":2,"stroke-dasharray":"1.5,1.5"});


[1,2,3,4].forEach(v=>{ const t=mk(s2,"text",{x:478,y:ypl(v)+3,"font-size":8,"text-anchor":"end",fill:"#333"},String(v));   });
[50,100].forEach(v=>{ const t=mk(s2,"text",{x:xp(v),y:401,"font-size":8,"text-anchor":"middle",fill:"#333"},String(v));   });
const l3 = mk(s2,"text",{x:491,y:331,"font-size":8,fill:"#333","font-family":"Liberation Mono"},"Plavchan Periodogram");


const xt3 = mk(s2,"text",{x:636,y:414,"font-size":8,"text-anchor":"middle",fill:"#333"},"PERIOD (CoRoT Julian days)");


const yt3 = mk(s2,"text",{x:467,y:352,"font-size":7,"text-anchor":"middle",fill:"#333",transform:"rotate(-90 467 352)","font-family":"Liberation Mono"},"POWER");



// ===== Figure 3 =====
const s3 = document.getElementById("svg3");
const f3L=100,f3R=406,fT=95,fB=388;
const x3 = v => f3L + (v-0.1)*765;
const yP = v => 387 - v*1.08;
const f3frame = mk(s3,"rect",{x:f3L,y:fT,width:f3R-f3L,height:fB-fT,fill:"none",stroke:"#999"});


fig3XTicks.forEach(t=>{
  const lb = mk(s3,"text",{x:x3(t),y:fB+12,"font-size":9,fill:"#888","text-anchor":"middle","font-family":"Liberation Serif"},String(t));
  
  
});
fig3YTicks.forEach(t=>{
  mk(s3,"line",{x1:f3L,x2:f3L+6,y1:yP(t),y2:yP(t),stroke:"#999"});
  const lb = mk(s3,"text",{x:f3L-4,y:yP(t)+3,"font-size":9,fill:"#888","text-anchor":"end","font-family":"Liberation Serif"},String(t));
  
  
});
const f3xt = mk(s3,"text",{x:253,y:fB+28,"font-size":10,fill:"#999","text-anchor":"middle","font-family":"Liberation Serif"},"(J−H)C3");


const f3yt = mk(s3,"text",{x:70,y:240,"font-size":10,fill:"#999","text-anchor":"middle","font-family":"Liberation Serif",transform:"rotate(-90 70 240)"},"Prot(days)");


const models3 = [[m15JH,m15P,"#999","1.50"],[m12JH,m12P,"#aaa","1.20"],[m10JH,m10P,"#99a0ee","1.00"],[m18JH,m18P,"#3333cc","1.80"],[m08JH,m08P,"#dd2a2a","0.80"],[m08preJH,m08preP,"#dd2a2a",""]];
models3.forEach(m=>{
  const pl = mk(s3,"polyline",{points:ptsStr(m[0],m[1],x3,yP),fill:"none",stroke:m[2],"stroke-width":m[2]==="#3333cc"||m[2]==="#dd2a2a"?1.4:1});
  
  
});
const labs3=[["1.80 M⊙",0.13,44],["1.50 M⊙",0.14,18],["1.20 M⊙",0.235,10],["1.00 M⊙",0.33,15],["0.80 M⊙",0.46,22]];
labs3.forEach(l=>{ const t=mk(s3,"text",{x:x3(l[1]),y:yP(l[2]),"font-size":6,fill:"#555","font-family":"Liberation Serif"},l[0]);   });
obsJH.forEach((v,i)=>{
  if (obsErr[i]>0){
    const e = mk(s3,"line",{x1:x3(v),x2:x3(v),y1:yP(obsProt[i]-obsErr[i]),y2:yP(obsProt[i]+obsErr[i]),stroke:"#aaa","stroke-width":0.8});
    
    
  }
  const c = mk(s3,"ellipse",{cx:x3(v),cy:yP(obsProt[i]),rx:2,ry:2.6,fill:"#000"});
  
  
});
[[0.115,29],[0.183,30],[0.229,34],[0.27,37],[0.353,51]].forEach(a=>{
  const t = mk(s3,"text",{x:x3(a[0]),y:yP(a[1])+4,"font-size":11,"text-anchor":"middle",fill:"#111"},"✱");
  
  
});

// ===== Figure 4 =====
const f4L=482,f4R=787;
const x4 = v => 532 + (v-0.3)*1272;
const f4frame = mk(s3,"rect",{x:f4L,y:fT,width:f4R-f4L,height:fB-fT,fill:"none",stroke:"#999"});


fig4XTicks.forEach(t=>{
  const lb = mk(s3,"text",{x:x4(t),y:fB+12,"font-size":9,fill:"#888","text-anchor":"middle","font-family":"Liberation Serif"},String(t));
  
  
});
fig3YTicks.forEach(t=>{
  const lb = mk(s3,"text",{x:f4L-4,y:yP(t)+3,"font-size":9,fill:"#888","text-anchor":"end","font-family":"Liberation Serif"},String(t));
  
  
});
const f4xt = mk(s3,"text",{x:632,y:fB+28,"font-size":10,fill:"#999","text-anchor":"middle","font-family":"Liberation Serif"},"(J−H)C3");


const f4yt = mk(s3,"text",{x:452,y:240,"font-size":10,fill:"#999","text-anchor":"middle","font-family":"Liberation Serif",transform:"rotate(-90 452 240)"},"Prot(days)");


const dl = mk(s3,"polyline",{points:ptsStr(diffJH,diffP,x4,yP),fill:"none",stroke:"#111","stroke-width":1.2});


const sl = mk(s3,"polyline",{points:ptsStr(solidJH,solidP,x4,yP),fill:"none",stroke:"#111","stroke-width":1.1,"stroke-dasharray":"5,4"});


const sbl = mk(s3,"text",{x:x4(0.33),y:yP(200),"font-size":8,fill:"#666","font-family":"Liberation Mono",transform:"rotate(-68 "+x4(0.33)+" "+yP(200)+")"},"solid body");


lovisJH.forEach((v,i)=>{
  const c = mk(s3,"circle",{cx:x4(v),cy:yP(lovisP[i]),r:1.8,fill:"none",stroke:"#888","stroke-width":0.7});
  
  
});
const a4 = mk(s3,"text",{x:x4(0.278),y:yP(91)+4,"font-size":10,"text-anchor":"middle",fill:"#111"},"✱");


const sun4 = mk(s3,"circle",{cx:x4(0.278),cy:yP(27),r:4,fill:"none",stroke:"#111"});


</script>
</body></html>
